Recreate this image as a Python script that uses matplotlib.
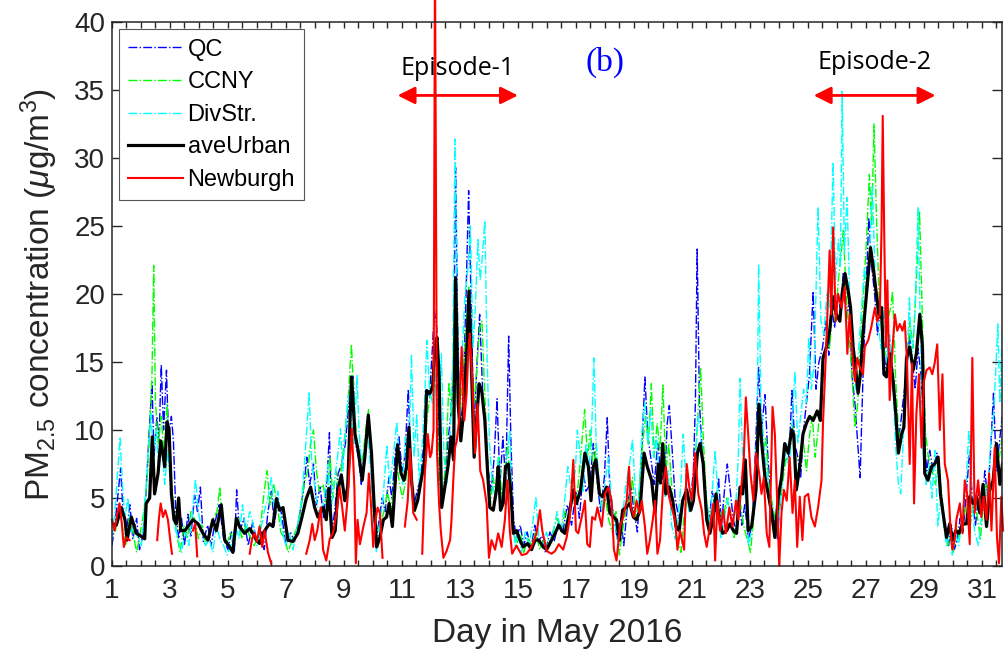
import numpy as np
import matplotlib
matplotlib.use("Agg")
import matplotlib.pyplot as plt
from matplotlib.ticker import MultipleLocator, FixedLocator

plt.rcParams['font.family'] = ['Liberation Sans', 'DejaVu Sans']
plt.rcParams['mathtext.fontset'] = 'custom'
plt.rcParams['mathtext.rm'] = 'Liberation Sans'
plt.rcParams['mathtext.it'] = 'Liberation Sans:italic'

nan = np.nan

# (day, PM2.5)
qc_pts = np.array([
    (1.00, 1.5), (1.10, 3.0), (1.22, 5.5), (1.30, 7.2), (1.38, 4.0), (1.50, 2.5), (1.62, 4.5), (1.72, 2.0),
    (1.85, 3.5), (1.95, 1.2), (2.10, 2.5), (2.20, 6.5), (2.30, 10.5), (2.38, 13.5), (2.45, 8.0), (2.55, 11.0),
    (2.62, 9.0), (2.70, 14.8), (2.78, 10.0), (2.88, 14.4), (2.95, 9.5), (3.05, 11.0), (3.12, 9.2), (3.20, 4.0),
    (3.30, 2.0), (3.40, 3.5), (3.50, 1.5), (3.62, 3.8), (3.72, 2.2), (3.85, 5.2), (3.95, 4.0), (4.05, 5.8),
    (4.15, 1.8), (4.30, 3.0), (4.42, 1.5), (4.55, 3.2), (4.70, 4.5), (4.85, 2.0), (5.00, 1.2), (5.12, 2.5),
    (5.22, 1.0), (5.30, 5.6), (5.40, 2.5), (5.55, 3.5), (5.70, 1.5), (5.85, 3.2), (6.00, 1.8), (6.12, 2.8),
    (6.25, 1.2), (6.38, 4.0), (6.50, 5.5), (6.60, 3.0), (6.72, 5.0), (6.85, 3.8), (7.00, 1.5), (7.15, 2.5),
    (7.30, 1.8), (7.45, 3.5), (7.60, 5.5), (7.72, 8.0), (7.82, 6.0), (7.95, 7.5), (8.05, 4.5), (8.18, 5.8),
    (8.30, 3.5), (8.42, 6.5), (8.50, 9.8), (8.58, 2.5), (8.68, 4.0), (8.80, 6.8), (8.92, 7.5),
    (9.05, 9.0), (9.15, 11.5), (9.25, 13.5), (9.32, 14.0), (9.40, 9.0), (9.50, 8.0), (9.60, 6.0), (9.72, 9.0),
    (9.82, 11.0), (9.92, 8.5), (10.02, 4.5), (10.12, 2.0), (10.22, 3.5), (10.32, 5.0), (10.42, 4.0), (10.55, 6.5),
    (10.65, 5.0), (10.78, 8.5), (10.90, 9.5), (11.00, 7.0), (11.10, 8.0), (11.22, 13.0), (11.32, 6.5), (11.42, 4.5),
    (11.52, 5.5), (11.65, 6.5), (11.75, 9.0), (11.85, 13.0), (11.95, 12.5), (12.05, 16.0), (12.12, 18.8), (12.20, 17.5),
    (12.28, 8.0), (12.38, 4.5), (12.48, 6.5), (12.58, 9.0), (12.68, 11.0), (12.78, 14.0), (12.85, 29.3), (12.92, 18.0),
    (13.00, 10.0), (13.10, 12.0), (13.20, 19.0), (13.30, 27.6), (13.38, 20.0), (13.48, 10.0), (13.58, 14.5), (13.68, 18.5),
    (13.78, 13.0), (13.88, 9.5), (13.98, 7.0), (14.08, 5.5), (14.18, 8.0), (14.28, 12.3), (14.38, 6.0), (14.48, 9.5),
    (14.58, 6.0), (14.68, 16.9), (14.76, 9.0), (14.85, 3.5), (14.95, 2.0), (15.08, 3.0), (15.20, 1.5), (15.32, 2.5),
    (15.45, 1.2), (15.58, 3.0), (15.70, 1.8), (15.82, 2.2), (15.95, 1.0), (16.10, 2.5), (16.25, 1.8), (16.40, 3.2),
    (16.55, 2.5), (16.70, 4.5), (16.85, 3.0),
    (17.00, 5.5), (17.12, 3.5), (17.25, 7.0), (17.35, 5.5), (17.48, 6.0), (17.60, 9.0), (17.72, 6.5), (17.85, 4.0),
    (17.98, 6.5), (18.08, 10.9), (18.18, 5.0), (18.30, 4.0), (18.42, 2.0), (18.55, 3.5), (18.65, 1.5), (18.78, 4.5),
    (18.90, 6.0), (19.00, 4.0), (19.12, 2.5), (19.25, 7.5), (19.38, 13.9), (19.48, 9.5), (19.58, 8.0), (19.70, 6.0),
    (19.82, 9.0), (19.92, 7.0), (20.05, 6.0), (20.15, 10.5), (20.22, 11.8), (20.32, 8.5), (20.42, 5.0), (20.55, 3.5),
    (20.68, 4.5), (20.80, 6.0), (20.92, 4.0), (21.05, 7.0), (21.12, 12.0), (21.18, 23.3), (21.26, 12.0), (21.36, 8.0),
    (21.48, 5.0), (21.58, 3.0), (21.70, 5.5), (21.82, 4.0), (21.92, 6.5), (22.02, 3.0), (22.12, 5.5), (22.22, 7.5),
    (22.30, 6.0), (22.42, 3.5), (22.52, 2.5), (22.62, 5.0), (22.72, 3.0), (22.82, 4.5), (22.95, 2.0), (23.08, 3.0),
    (23.18, 8.0), (23.30, 14.6), (23.40, 10.0), (23.52, 12.6), (23.62, 8.0), (23.72, 5.0), (23.82, 3.5), (23.95, 2.0),
    (24.05, 5.0), (24.15, 7.0), (24.25, 9.0), (24.35, 8.0), (24.45, 12.9), (24.55, 9.0),
    (24.65, 8.0), (24.75, 6.5), (24.85, 10.0), (24.95, 12.0), (25.05, 14.0), (25.18, 20.2), (25.28, 13.0), (25.38, 15.0),
    (25.50, 16.0), (25.62, 18.0), (25.72, 15.5), (25.82, 19.0), (25.92, 17.5), (26.02, 20.0), (26.12, 19.0), (26.22, 21.5),
    (26.32, 18.0), (26.42, 19.5), (26.52, 14.0), (26.62, 12.0), (26.72, 9.0), (26.80, 6.5), (26.90, 14.0), (27.00, 20.0),
    (27.10, 25.6), (27.20, 22.0), (27.30, 20.0), (27.40, 17.0), (27.50, 19.0), (27.60, 16.5), (27.70, 14.0), (27.80, 17.0),
    (27.90, 15.0), (28.00, 12.0), (28.10, 9.0), (28.20, 10.5), (28.30, 12.5), (28.40, 14.0), (28.50, 17.0), (28.60, 15.0),
    (28.70, 13.0), (28.80, 16.0), (28.90, 14.0), (29.00, 9.5), (29.10, 7.0), (29.20, 8.5), (29.32, 7.0), (29.45, 8.3),
    (29.55, 6.0), (29.65, 4.0), (29.75, 2.5), (29.85, 1.5), (29.95, 3.0), (30.05, 1.2), (30.15, 2.0), (30.25, 3.5),
    (30.35, 2.5), (30.45, 5.0), (30.58, 8.5), (30.68, 4.5), (30.78, 3.0), (30.90, 5.5), (31.00, 4.0), (31.10, 7.0),
    (31.20, 5.0), (31.30, 8.5), (31.40, 12.7), (31.50, 7.0), (31.60, 9.0), (31.70, 11.0),
])

ccny_pts = np.array([
    (1.00, 3.5), (1.12, 2.5), (1.25, 4.5), (1.35, 3.0), (1.48, 1.5), (1.60, 3.5), (1.72, 2.5), (1.85, 1.0),
    (1.98, 2.5), (2.10, 4.0), (2.22, 6.5), (2.32, 11.0), (2.38, 14.0), (2.44, 22.1), (2.50, 12.0), (2.60, 9.0),
    (2.70, 11.0), (2.80, 8.0), (2.90, 11.9), (3.00, 7.0), (3.10, 5.0), (3.22, 2.5), (3.35, 1.0), (3.48, 3.0),
    (3.60, 2.0), (3.72, 4.0), (3.85, 3.5), (3.98, 2.0), (4.10, 3.0), (4.25, 1.5), (4.38, 2.5), (4.50, 3.5),
    (4.62, 4.0), (4.72, 5.8), (4.82, 3.0), (4.95, 1.5), (5.08, 2.5), (5.20, 1.8), (5.35, 3.5), (5.48, 2.0),
    (5.62, 3.0), (5.75, 2.2), (5.90, 1.5), (6.02, 2.0), (6.15, 3.5), (6.25, 5.5), (6.35, 7.0), (6.45, 4.5),
    (6.58, 6.0), (6.70, 4.5), (6.82, 2.5), (6.95, 2.0), (7.08, 1.0), (7.22, 2.0), (7.38, 2.8), (7.50, 4.0),
    (7.62, 6.0), (7.75, 7.0), (7.85, 9.0), (7.95, 10.0), (8.05, 7.0), (8.15, 5.5), (8.28, 6.0), (8.40, 4.5),
    (8.52, 8.0), (8.62, 5.0), (8.72, 7.0), (8.82, 5.5), (8.95, 8.0),
    (9.05, 10.0), (9.15, 12.5), (9.26, 16.3), (9.35, 12.0), (9.45, 9.0), (9.55, 7.5), (9.65, 8.0), (9.75, 10.0),
    (9.85, 11.5), (9.95, 8.0), (10.05, 4.0), (10.15, 2.5), (10.25, 3.0), (10.38, 4.0), (10.50, 5.5), (10.62, 4.0),
    (10.72, 6.0), (10.82, 7.5), (10.92, 6.0), (11.02, 5.0), (11.15, 6.5), (11.25, 8.5), (11.35, 6.0), (11.45, 4.0),
    (11.58, 5.0), (11.70, 6.5), (11.80, 9.5), (11.90, 11.5), (12.00, 13.0), (12.10, 15.0), (12.20, 12.0), (12.30, 6.0),
    (12.40, 5.0), (12.52, 8.0), (12.62, 13.5), (12.72, 11.0), (12.82, 20.0), (12.90, 16.0), (13.00, 11.0), (13.10, 14.0),
    (13.20, 17.0), (13.30, 20.5), (13.40, 15.0), (13.50, 12.0), (13.60, 15.0), (13.68, 17.5), (13.76, 18.0), (13.85, 13.0),
    (13.95, 8.0), (14.05, 4.5), (14.15, 6.5), (14.25, 5.0), (14.35, 8.0), (14.45, 5.0), (14.55, 7.0), (14.65, 9.0),
    (14.75, 5.0), (14.85, 2.5), (14.95, 1.5), (15.08, 2.5), (15.20, 1.0), (15.35, 2.0), (15.48, 1.5), (15.60, 2.5),
    (15.75, 1.2), (15.90, 2.0), (16.05, 1.5), (16.20, 2.5), (16.35, 3.5), (16.50, 2.5), (16.62, 4.0), (16.75, 3.0),
    (16.88, 5.0),
    (17.00, 4.5), (17.10, 6.5), (17.20, 9.0), (17.30, 11.5), (17.40, 8.0), (17.50, 10.0), (17.60, 7.0), (17.70, 9.0),
    (17.80, 5.5), (17.92, 4.0), (18.02, 5.0), (18.12, 3.5), (18.25, 2.5), (18.38, 4.0), (18.50, 0.8), (18.60, 2.5),
    (18.72, 4.0), (18.85, 5.0), (18.95, 6.5), (19.05, 3.5), (19.15, 4.5), (19.28, 8.5), (19.40, 11.0), (19.50, 9.0),
    (19.60, 13.4), (19.70, 8.0), (19.80, 10.5), (19.90, 8.5), (20.00, 13.3), (20.10, 7.0), (20.20, 9.0), (20.30, 6.0),
    (20.40, 3.5), (20.50, 2.0), (20.62, 1.0), (20.72, 3.5), (20.85, 5.0), (20.95, 4.0), (21.05, 6.0), (21.15, 9.0),
    (21.30, 14.6), (21.40, 9.0), (21.50, 5.0), (21.62, 3.0), (21.72, 4.5), (21.85, 5.5), (21.95, 4.0), (22.08, 3.5),
    (22.20, 5.0), (22.32, 4.0), (22.45, 2.0), (22.55, 3.5), (22.68, 4.5), (22.78, 3.0), (22.90, 2.0), (23.02, 1.0),
    (23.15, 4.0), (23.25, 9.0), (23.35, 11.5), (23.45, 8.0), (23.55, 9.5), (23.65, 6.0), (23.78, 4.5), (23.90, 3.0),
    (24.00, 4.0), (24.12, 6.0), (24.25, 8.0), (24.35, 7.5), (24.45, 10.5), (24.55, 9.0),
    (24.65, 6.0), (24.75, 8.5), (24.85, 9.0), (24.95, 7.0), (25.05, 9.5), (25.15, 11.0), (25.25, 8.0), (25.35, 10.0),
    (25.45, 12.0), (25.55, 15.0), (25.65, 17.0), (25.75, 16.0), (25.85, 19.0), (25.95, 18.0), (26.05, 21.0), (26.15, 23.0),
    (26.22, 24.7), (26.32, 20.0), (26.42, 17.0), (26.52, 14.0), (26.62, 10.2), (26.72, 12.0), (26.82, 17.0), (26.92, 20.0),
    (27.02, 24.0), (27.12, 28.8), (27.20, 25.0), (27.28, 32.5), (27.36, 26.0), (27.45, 20.0), (27.55, 17.0), (27.65, 15.5),
    (27.75, 18.0), (27.85, 19.0), (27.92, 20.2), (28.02, 14.0), (28.12, 10.0), (28.22, 9.0), (28.32, 11.0), (28.42, 14.5),
    (28.52, 18.0), (28.62, 16.0), (28.72, 20.0), (28.85, 26.1), (28.95, 18.0), (29.05, 10.0), (29.15, 8.0), (29.28, 7.0),
    (29.40, 6.0), (29.52, 7.5), (29.62, 5.0), (29.72, 3.0), (29.82, 1.5), (29.92, 2.5), (30.02, 1.0), (30.12, 3.0),
    (30.22, 2.0), (30.35, 3.5), (30.48, 4.5), (30.60, 3.0), (30.72, 5.0), (30.85, 3.5), (30.95, 2.0), (31.05, 4.5),
    (31.15, 6.0), (31.28, 5.0), (31.40, 7.0), (31.50, 9.0), (31.60, 8.0), (31.70, 9.5),
])

divstr_pts = np.array([
    (1.00, 2.0), (1.10, 4.0), (1.20, 7.0), (1.28, 9.5), (1.36, 6.0), (1.45, 3.5), (1.55, 5.0), (1.65, 2.5),
    (1.78, 3.0), (1.90, 2.0), (2.02, 1.5), (2.15, 5.0), (2.28, 9.0), (2.35, 11.2), (2.42, 8.0), (2.52, 10.0),
    (2.62, 7.0), (2.72, 9.0), (2.82, 6.0), (2.92, 8.5), (3.02, 6.0), (3.15, 3.0), (3.28, 2.0), (3.40, 1.0),
    (3.52, 2.5), (3.65, 1.5), (3.78, 4.0), (3.88, 6.4), (3.98, 4.0), (4.10, 2.5), (4.22, 1.5), (4.35, 2.0),
    (4.48, 1.0), (4.60, 3.0), (4.72, 2.0), (4.85, 1.5), (4.98, 0.8), (5.10, 1.5), (5.25, 3.0), (5.38, 2.0),
    (5.50, 4.5), (5.62, 2.5), (5.75, 4.0), (5.88, 3.0), (6.00, 1.5), (6.12, 2.5), (6.25, 4.0), (6.38, 5.0),
    (6.50, 6.5), (6.60, 4.0), (6.72, 5.5), (6.85, 3.0), (6.98, 1.5), (7.10, 2.5), (7.25, 1.2), (7.40, 3.0),
    (7.55, 5.0), (7.65, 8.0), (7.72, 10.0), (7.80, 12.8), (7.88, 8.0), (7.98, 6.0), (8.08, 4.5), (8.20, 3.0),
    (8.32, 5.0), (8.45, 7.5), (8.55, 4.0), (8.65, 6.0), (8.78, 8.0), (8.88, 10.1), (8.96, 7.0),
    (9.05, 10.0), (9.15, 12.5), (9.25, 11.0), (9.35, 9.0), (9.45, 14.0), (9.52, 10.0), (9.62, 7.0), (9.72, 8.5),
    (9.82, 10.0), (9.92, 7.0), (10.02, 3.5), (10.12, 1.0), (10.22, 3.0), (10.35, 5.0), (10.48, 8.9), (10.58, 6.0),
    (10.70, 8.0), (10.82, 10.6), (10.92, 7.5), (11.02, 6.0), (11.12, 9.5), (11.22, 7.0), (11.33, 15.6), (11.42, 8.0),
    (11.51, 11.2), (11.60, 6.0), (11.70, 9.0), (11.78, 12.0), (11.86, 16.6), (11.95, 13.0), (12.05, 12.0), (12.12, 15.5),
    (12.22, 10.0), (12.30, 12.0), (12.36, 15.6), (12.45, 8.0), (12.55, 6.0), (12.65, 9.0), (12.75, 15.0), (12.83, 31.4),
    (12.90, 20.0), (12.98, 12.0), (13.08, 16.0), (13.18, 20.0), (13.28, 22.0), (13.36, 25.0), (13.45, 16.0), (13.53, 19.0),
    (13.62, 24.0), (13.70, 21.0), (13.78, 23.0), (13.86, 25.4), (13.94, 15.0), (14.02, 9.0), (14.12, 6.0), (14.22, 5.0),
    (14.32, 8.0), (14.42, 4.5), (14.52, 6.0), (14.62, 8.0), (14.72, 10.0), (14.80, 4.0), (14.90, 1.5), (15.00, 2.5),
    (15.12, 1.0), (15.25, 2.5), (15.38, 1.5), (15.50, 3.0), (15.62, 5.1), (15.72, 2.0), (15.85, 1.5), (15.98, 2.5),
    (16.10, 1.5), (16.22, 2.5), (16.35, 4.0), (16.48, 2.5), (16.60, 4.5), (16.72, 7.3), (16.85, 5.5),
    (16.98, 7.0), (17.05, 10.0), (17.15, 8.0), (17.25, 5.5), (17.35, 9.0), (17.45, 7.0), (17.55, 10.5), (17.62, 15.3),
    (17.70, 9.0), (17.80, 6.0), (17.90, 4.0), (18.00, 6.0), (18.12, 8.0), (18.22, 5.0), (18.35, 3.0), (18.48, 1.5),
    (18.60, 3.5), (18.72, 6.0), (18.85, 7.5), (18.95, 9.3), (19.05, 5.5), (19.15, 4.0), (19.28, 10.0), (19.38, 12.0),
    (19.48, 9.0), (19.58, 11.5), (19.68, 8.0), (19.78, 9.5), (19.88, 6.0), (19.98, 8.0), (20.08, 5.0), (20.18, 7.0),
    (20.30, 3.0), (20.42, 2.0), (20.52, 3.5), (20.62, 6.0), (20.70, 9.7), (20.80, 6.0), (20.90, 4.0), (21.00, 5.5),
    (21.10, 7.0), (21.20, 11.0), (21.30, 10.0), (21.40, 7.0), (21.52, 4.5), (21.62, 3.0), (21.72, 6.0), (21.80, 8.5),
    (21.90, 5.0), (22.00, 2.0), (22.12, 3.5), (22.25, 5.0), (22.38, 3.0), (22.50, 4.0), (22.60, 8.0), (22.66, 13.8),
    (22.75, 8.0), (22.85, 5.0), (22.95, 1.5), (23.05, 2.5), (23.15, 6.0), (23.25, 10.0), (23.30, 22.2), (23.38, 12.0),
    (23.48, 9.0), (23.58, 7.0), (23.68, 5.0), (23.78, 3.5), (23.90, 2.0), (24.00, 3.5), (24.12, 6.5), (24.25, 9.0),
    (24.35, 7.0), (24.45, 10.0), (24.55, 14.3),
    (24.65, 9.0), (24.75, 11.0), (24.85, 13.0), (24.95, 12.0), (25.03, 16.8), (25.12, 13.0), (25.22, 15.0), (25.35, 26.4),
    (25.45, 18.0), (25.55, 17.0), (25.65, 20.0), (25.75, 19.0), (25.87, 29.7), (25.95, 21.0), (26.05, 24.0), (26.12, 22.0),
    (26.18, 34.9), (26.26, 23.0), (26.35, 27.1), (26.45, 19.0), (26.55, 15.0), (26.65, 13.0), (26.75, 16.0), (26.85, 19.0),
    (26.95, 22.0), (27.05, 20.0), (27.15, 24.0), (27.22, 28.0), (27.32, 21.0), (27.42, 18.0), (27.52, 16.0), (27.62, 19.0),
    (27.72, 15.0), (27.82, 17.0), (27.92, 14.0), (28.02, 9.0), (28.12, 6.0), (28.20, 5.3), (28.30, 10.0), (28.40, 14.0),
    (28.50, 19.8), (28.58, 15.0), (28.68, 18.0), (28.80, 26.4), (28.88, 17.0), (28.98, 8.0), (29.08, 6.0), (29.18, 7.5),
    (29.28, 5.0), (29.38, 8.5), (29.48, 2.9), (29.58, 5.0), (29.68, 3.0), (29.78, 1.5), (29.88, 3.0), (29.98, 0.8),
    (30.08, 2.5), (30.20, 1.5), (30.32, 4.0), (30.45, 6.0), (30.55, 10.0), (30.65, 5.0), (30.75, 2.5), (30.88, 1.5),
    (30.98, 3.5), (31.08, 6.0), (31.20, 5.0), (31.30, 9.0), (31.40, 11.0), (31.47, 14.0), (31.55, 17.8), (31.62, 12.0),
    (31.70, 17.3),
])

urban_pts = np.array([
    (1.00, 3.1), (1.15, 3.0), (1.32, 4.3), (1.45, 3.4), (1.52, 1.9), (1.67, 3.6), (1.84, 2.4), (2.00, 2.2),
    (2.13, 2.0), (2.18, 4.6), (2.30, 5.0), (2.39, 9.5), (2.47, 5.3), (2.59, 6.8), (2.68, 9.2), (2.74, 8.5),
    (2.82, 7.3), (2.90, 10.6), (2.97, 10.0), (3.05, 5.3), (3.14, 3.4), (3.22, 3.1), (3.30, 5.0), (3.37, 2.6),
    (3.51, 2.6), (3.62, 2.9), (3.79, 3.4), (3.97, 3.1), (4.14, 2.4), (4.31, 1.9), (4.48, 3.4), (4.60, 2.6),
    (4.77, 4.5), (4.89, 1.9), (5.06, 1.4), (5.17, 1.0), (5.29, 3.5), (5.40, 2.9), (5.57, 2.4), (5.75, 2.75),
    (5.86, 2.4), (5.98, 1.9), (6.09, 1.65), (6.21, 2.4), (6.36, 2.9), (6.44, 3.1), (6.55, 2.9), (6.67, 4.95),
    (6.78, 4.1), (6.90, 4.3), (7.07, 1.9), (7.24, 1.8), (7.41, 2.4), (7.53, 3.4), (7.70, 4.95), (7.85, 5.8),
    (7.99, 4.3), (8.10, 3.6), (8.28, 4.3), (8.39, 3.4), (8.48, 5.7), (8.59, 2.1), (8.70, 2.6), (8.79, 5.6),
    (8.91, 6.7), (9.03, 4.8), (9.13, 5.8), (9.26, 13.9), (9.38, 9.7), (9.49, 8.5), (9.63, 6.3), (9.72, 8.0),
    (9.84, 11.1), (9.95, 8.3), (10.05, 4.1), (10.13, 1.4), (10.24, 2.1), (10.36, 3.4), (10.47, 3.6), (10.56, 4.6),
    (10.67, 2.9), (10.78, 6.5), (10.85, 8.9), (10.97, 6.8), (11.07, 6.3), (11.16, 7.3), (11.24, 10.2), (11.33, 6.3),
    (11.43, 4.1), (11.54, 4.8), (11.66, 6.3), (11.77, 7.6), (11.85, 12.9), (11.97, 12.7), (12.06, 13.2), (12.14, 16.1),
    (12.21, 16.8), (12.28, 14.1), (12.37, 4.3), (12.48, 5.8), (12.60, 7.5), (12.69, 9.5), (12.78, 7.8), (12.85, 21.2),
    (12.94, 11.9), (13.03, 9.2), (13.12, 11.2), (13.23, 15.5), (13.31, 20.2), (13.40, 14.4), (13.49, 8.0), (13.59, 11.2),
    (13.66, 13.4), (13.75, 12.9), (13.86, 10.7), (13.95, 7.0), (14.03, 4.3), (14.15, 4.1), (14.26, 5.6), (14.32, 7.3),
    (14.40, 4.1), (14.49, 4.6), (14.57, 7.3), (14.67, 7.5), (14.76, 5.3), (14.84, 2.4), (14.95, 2.6), (15.07, 1.9),
    (15.18, 1.4), (15.33, 1.65), (15.47, 1.2), (15.59, 1.9), (15.72, 1.9), (15.87, 1.4), (15.99, 1.2), (16.16, 1.9),
    (16.28, 2.4), (16.41, 3.0), (16.51, 2.6), (16.62, 2.4), (16.74, 3.5), (16.91, 5.6), (17.02, 4.6), (17.16, 5.6),
    (17.31, 8.3), (17.43, 7.3), (17.52, 4.8), (17.60, 7.3), (17.69, 7.8), (17.81, 5.3), (17.92, 5.1), (18.06, 5.8),
    (18.17, 3.9), (18.29, 3.6), (18.40, 3.4), (18.50, 1.9), (18.61, 4.1), (18.73, 4.3), (18.86, 4.6), (18.98, 3.6),
    (19.09, 3.4), (19.21, 4.1), (19.35, 8.3), (19.46, 7.3), (19.61, 6.3), (19.73, 3.9), (19.84, 7.5), (19.92, 6.1),
    (19.99, 9.0), (20.10, 5.3), (20.22, 5.8), (20.34, 4.8), (20.45, 2.9), (20.56, 2.6), (20.68, 4.8), (20.82, 5.6),
    (20.96, 4.1), (21.05, 4.8), (21.19, 8.3), (21.28, 9.0), (21.39, 7.5), (21.51, 3.4), (21.62, 2.4), (21.74, 3.6),
    (21.83, 5.3), (21.94, 3.4), (22.06, 2.4), (22.20, 2.6), (22.31, 3.1), (22.43, 2.6), (22.54, 2.4), (22.66, 5.8),
    (22.75, 5.3), (22.84, 7.8), (22.94, 2.6), (23.06, 2.9), (23.21, 5.6), (23.31, 11.9), (23.40, 9.2), (23.52, 6.5),
    (23.63, 5.3), (23.75, 3.9), (23.86, 2.1), (23.98, 5.1), (24.09, 6.5), (24.20, 9.0), (24.32, 8.3), (24.44, 10.0),
    (24.51, 9.7), (24.60, 5.6), (24.72, 7.3), (24.83, 9.7), (24.95, 10.5), (25.06, 11.0), (25.18, 10.7), (25.32, 11.4),
    (25.43, 10.7), (25.52, 15.3), (25.64, 16.1), (25.75, 17.3), (25.87, 19.8), (25.98, 18.5), (26.10, 18.0), (26.19, 20.2),
    (26.28, 21.5), (26.39, 20.2), (26.47, 19.0), (26.56, 16.1), (26.65, 14.4), (26.73, 12.7), (26.81, 14.1), (26.90, 17.1),
    (27.02, 20.0), (27.16, 23.4), (27.25, 22.0), (27.36, 20.0), (27.46, 18.3), (27.54, 19.0), (27.62, 14.1), (27.71, 13.9),
    (27.82, 15.6), (27.94, 13.6), (28.03, 11.2), (28.12, 8.3), (28.23, 9.7), (28.31, 10.2), (28.40, 15.3), (28.51, 16.1),
    (28.63, 14.4), (28.74, 15.6), (28.86, 18.5), (28.95, 16.1), (29.03, 6.8), (29.14, 6.3), (29.26, 7.3), (29.37, 7.5),
    (29.49, 8.0), (29.57, 5.3), (29.66, 3.9), (29.78, 2.1), (29.89, 3.1), (29.98, 1.9), (30.10, 2.6), (30.21, 2.4),
    (30.33, 3.1), (30.47, 3.1), (30.58, 5.1), (30.70, 4.6), (30.81, 5.1), (30.93, 3.9), (31.04, 6.0), (31.16, 2.9),
    (31.27, 5.6), (31.39, 6.3), (31.50, 9.0), (31.62, 6.0), (31.71, 7.5),
])

# nan rows = gaps in the Newburgh record
newburgh_pts = np.array([
    (1.00, 3.4), (1.09, 2.6), (1.18, 3.8), (1.26, 4.6), (1.34, 3.1), (1.41, 1.4), (1.49, 2.1), (1.61, 1.9), (1.62, nan),
    (2.56, 1.9), (2.62, 3.5), (2.68, 4.6), (2.76, 3.6), (2.84, 4.1), (2.93, 3.4), (3.01, 1.9), (3.07, 0.9), (3.08, nan),
    (3.79, 2.6), (3.87, 3.1), (3.94, 0.7), (3.95, nan),
    (5.75, 0.9), (5.83, 2.0), (5.92, 2.4), (6.00, 1.8), (6.09, 2.9), (6.18, 1.4), (6.26, 2.6), (6.38, 1.0),
    (6.49, 0.2), (6.50, nan),
    (7.70, 0.9), (7.82, 1.9), (7.91, 3.1), (7.99, 1.9), (8.08, 2.6), (8.20, 4.3), (8.28, 1.2), (8.39, 0.4),
    (8.51, 2.0), (8.62, 2.4), (8.74, 3.8), (8.85, 5.8), (8.94, 4.3), (9.03, 2.6), (9.13, 5.1), (9.20, 7.5),
    (9.27, 10.1), (9.36, 5.8), (9.41, 0.2), (9.47, 3.4), (9.55, 1.6), (9.67, 2.9), (9.78, 3.9), (9.86, 6.8),
    (9.93, 4.6), (10.01, 1.4), (10.09, 3.4), (10.16, 4.3), (10.24, 3.9), (10.33, 0.6), (10.34, nan),
    (11.10, 2.9), (11.20, 4.8), (11.28, 8.6), (11.39, 3.9), (11.51, 3.4), (11.52, nan),
    (11.70, 0.9), (11.79, 6.8), (11.89, 9.7), (11.97, 8.0), (12.02, 8.3), (12.09, 10.0), (12.14, 45.0), (12.21, 8.3),
    (12.28, 4.6), (12.34, 2.6), (12.43, 0.6), (12.54, 1.1), (12.66, 1.9), (12.71, 3.4), (12.77, 6.3), (12.83, 8.7),
    (12.89, 9.2), (12.97, 10.7), (13.06, 16.1), (13.15, 10.7), (13.23, 12.7), (13.29, 15.8), (13.34, 17.1), (13.43, 13.6),
    (13.52, 8.3), (13.61, 11.9), (13.70, 7.0), (13.80, 6.3), (13.92, 4.6), (14.00, 0.6), (14.09, 1.9), (14.21, 1.2),
    (14.32, 2.4), (14.44, 1.4), (14.55, 3.4), (14.64, 6.3), (14.72, 2.6), (14.80, 0.9), (14.95, 1.5), (15.13, 0.8),
    (15.30, 0.9), (15.47, 1.4), (15.64, 2.4), (15.76, 4.1), (15.84, 2.6), (15.99, 1.1), (16.16, 0.9), (16.28, 1.1),
    (16.41, 1.6), (16.56, 1.2), (16.68, 2.1), (16.79, 3.6), (16.91, 7.8), (17.00, 2.6), (17.08, 2.4), (17.20, 3.6),
    (17.31, 4.8), (17.39, 1.6), (17.48, 1.4), (17.56, 3.6), (17.66, 3.4), (17.74, 4.3), (17.89, 2.9), (18.00, 5.3),
    (18.12, 5.8), (18.23, 4.8), (18.31, 1.2), (18.40, 0.4), (18.52, 2.9), (18.63, 3.6), (18.75, 4.8), (18.83, 7.3),
    (18.90, 4.3), (19.00, 3.6), (19.09, 4.8), (19.19, 3.9), (19.27, 4.8), (19.38, 2.9), (19.46, 0.9), (19.55, 1.9),
    (19.65, 3.4), (19.73, 4.8), (19.81, 0.9), (19.90, 1.9), (20.01, 6.0), (20.10, 7.3), (20.19, 5.3), (20.30, 4.3),
    (20.42, 3.4), (20.50, 1.2), (20.59, 2.6), (20.73, 1.2), (20.82, 7.5), (20.91, 5.8), (21.00, 4.8), (21.11, 8.3),
    (21.22, 5.3), (21.34, 4.1), (21.42, 2.4), (21.51, 1.4), (21.62, 2.9), (21.74, 4.6), (21.80, 0.4), (21.88, 4.8),
    (21.97, 2.6), (22.08, 4.1), (22.17, 2.4), (22.29, 4.3), (22.40, 2.9), (22.52, 4.8), (22.60, 3.4), (22.71, 6.0),
    (22.79, 8.0), (22.86, 12.4), (22.94, 9.7), (23.02, 6.8), (23.12, 4.8), (23.21, 8.3), (23.32, 6.8), (23.40, 5.3),
    (23.48, 6.5), (23.58, 2.4), (23.67, 1.4), (23.78, 11.7), (23.86, 9.7), (23.94, 4.8), (24.01, 0.0), (24.09, 3.9),
    (24.17, 5.6), (24.27, 4.8), (24.37, 8.0), (24.47, 3.9), (24.55, 6.3), (24.63, 1.4), (24.72, 5.1), (24.81, 1.9),
    (24.89, 5.1), (25.01, 5.3), (25.12, 3.6), (25.24, 2.9), (25.35, 4.3), (25.47, 6.3), (25.52, 10.5), (25.64, 16.6),
    (25.75, 23.2), (25.81, 18.5), (25.87, 24.9), (25.96, 18.0), (26.04, 20.0), (26.16, 19.0), (26.27, 20.5), (26.36, 15.6),
    (26.44, 18.5), (26.54, 15.3), (26.62, 13.6), (26.70, 15.3), (26.79, 14.6), (26.90, 14.1), (26.96, 16.1), (27.08, 16.6),
    (27.19, 17.6), (27.31, 19.0), (27.39, 18.0), (27.48, 18.5), (27.54, 24.9), (27.58, 33.1), (27.63, 24.7), (27.69, 16.1),
    (27.74, 21.0), (27.82, 12.2), (27.92, 16.1), (28.00, 18.5), (28.08, 17.3), (28.17, 17.8), (28.26, 17.3), (28.34, 18.0),
    (28.42, 14.9), (28.51, 7.5), (28.59, 14.9), (28.66, 4.6), (28.74, 11.2), (28.83, 14.1), (28.92, 8.7), (29.00, 13.6),
    (29.09, 14.4), (29.20, 14.6), (29.29, 14.1), (29.37, 14.9), (29.46, 16.3), (29.55, 10.0), (29.64, 14.1), (29.72, 7.5),
    (29.83, 6.3), (29.92, 2.6), (29.98, 1.2), (30.06, 1.9), (30.12, 3.4), (30.24, 4.6), (30.33, 2.4), (30.41, 6.3),
    (30.49, 5.3), (30.58, 1.6), (30.67, 15.3), (30.75, 3.9), (30.87, 6.3), (30.98, 3.6), (31.06, 5.1), (31.16, 3.4),
    (31.25, 6.8), (31.33, 2.6), (31.44, 8.7), (31.52, 2.1), (31.59, 0.2), (31.67, 5.1), (31.73, 2.6),
])

series_names = ['QC', 'CCNY', 'DivStr.', 'aveUrban', 'Newburgh']
day_ticks = list(range(1, 32, 2))
# (label, start day, end day, label height)
episodes = [('Episode-1', 10.85, 15.0, 36.6), ('Episode-2', 25.2, 29.4, 37.0)]

fig = plt.figure(figsize=(10.05, 6.55), dpi=100)
ax = fig.add_axes([0.1114, 0.1359, 0.8861, 0.8305])

ax.plot(qc_pts[:, 0], qc_pts[:, 1], '-.', color='#0000ff', lw=1.0, label=series_names[0])
ax.plot(ccny_pts[:, 0], ccny_pts[:, 1], '-.', color='#00ff00', lw=1.0, label=series_names[1])
ax.plot(divstr_pts[:, 0], divstr_pts[:, 1], '-.', color='#00ffff', lw=1.0, label=series_names[2])
ax.plot(urban_pts[:, 0], urban_pts[:, 1], '-', color='black', lw=2.3, label=series_names[3])
ax.plot(newburgh_pts[:, 0], newburgh_pts[:, 1], '-', color='red', lw=1.5, label=series_names[4], clip_on=False)

ax.set_xlim(1, 31.71)
ax.set_ylim(0, 40)
ax.xaxis.set_major_locator(FixedLocator(day_ticks))
ax.xaxis.set_minor_locator(MultipleLocator(0.5))
ax.yaxis.set_major_locator(MultipleLocator(5))

dark = '#262626'
for s in ax.spines.values():
    s.set_linewidth(1.1)
    s.set_color(dark)
ax.tick_params(axis='both', which='both', direction='in', top=True, right=True,
               colors=dark, labelsize=20, width=1.0)
ax.tick_params(axis='x', which='both', length=4, pad=9)
ax.tick_params(axis='y', which='major', length=7, pad=5)

ax.set_xlabel('Day in May 2016', fontsize=24, color=dark, labelpad=10)
ax.set_ylabel(r'PM$_{2.5}$ concentration ($\mu$g/m$^3$)', fontsize=24, color=dark, labelpad=10)

leg = ax.legend(loc='upper left', fontsize=17, handlelength=2.3, handletextpad=0.2,
                labelspacing=0.45, borderpad=0.4, borderaxespad=0.3, fancybox=False, framealpha=1)
leg.get_frame().set_edgecolor('#555555')
leg.get_frame().set_linewidth(0.8)

for name, d0, d1, ty in episodes:
    ax.annotate('', xy=(d0, 34.6), xytext=(d1, 34.6),
                arrowprops=dict(arrowstyle='<|-|>', color='red', lw=2, mutation_scale=26,
                                shrinkA=0, shrinkB=0))
    ax.text((d0 + d1) / 2, ty, name, ha='center', va='center', fontsize=18,
            family=['Open Sans', 'DejaVu Sans'], color='black')

ax.text(18.0, 37.0, '(b)', ha='center', va='center', fontsize=24, color='#0000ff',
        family=['Liberation Serif', 'DejaVu Serif'])

fig.savefig('out.png', dpi=100)
